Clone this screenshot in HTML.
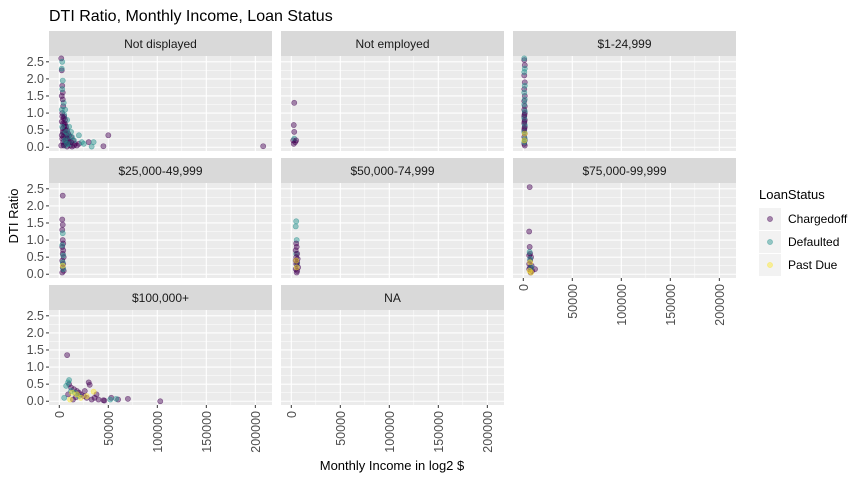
<!DOCTYPE html>
<html><head><meta charset="utf-8">
<style>
body{margin:0;background:#fff;font-family:"Liberation Sans",Arial,sans-serif}
svg text{font-family:"Liberation Sans",Arial,sans-serif}
</style></head><body>
<svg id="chart" width="864" height="480" viewBox="0 0 864 480" xmlns="http://www.w3.org/2000/svg">
<rect width="864" height="480" fill="#fff"/>
<text x="49" y="21" font-size="16" fill="#000">DTI Ratio, Monthly Income, Loan Status</text>
<text x="392" y="470" font-size="13" text-anchor="middle" fill="#000">Monthly Income in log2 $</text>
<text transform="translate(18,216) rotate(-90)" font-size="13" text-anchor="middle" fill="#000">DTI Ratio</text>
<g id="panels"></g>
<g>
<text x="759" y="199" font-size="13" fill="#000">LoanStatus</text>
<rect x="759" y="208" width="22" height="22" fill="#F2F2F2"/>
<rect x="759" y="231" width="22" height="22" fill="#F2F2F2"/>
<rect x="759" y="254" width="22" height="22" fill="#F2F2F2"/>
<circle cx="770" cy="219" r="2.6" fill="#440154" fill-opacity="0.45" stroke="#440154" stroke-opacity="0.5" stroke-width="0.6"/>
<circle cx="770" cy="242" r="2.6" fill="#21908C" fill-opacity="0.45" stroke="#21908C" stroke-opacity="0.5" stroke-width="0.6"/>
<circle cx="770" cy="265" r="2.6" fill="#FDE725" fill-opacity="0.45" stroke="#FDE725" stroke-opacity="0.5" stroke-width="0.6"/>
<text x="788" y="223" font-size="12" fill="#000">Chargedoff</text>
<text x="788" y="246" font-size="12" fill="#000">Defaulted</text>
<text x="788" y="269" font-size="12" fill="#000">Past Due</text>
</g>
</svg>
<script>
const panelNames = ["Not displayed","Not employed","$1-24,999","$25,000-49,999","$50,000-74,999","$75,000-99,999","$100,000+","NA"];
const statusNames = ["Chargedoff","Defaulted","Past Due"];
const statusColors = ["#440154","#21908C","#FDE725"];
const xTicks = [0,50000,100000,150000,200000];
const yTicks = [0,0.5,1,1.5,2,2.5];
const yTickLabels = ["0.0","0.5","1.0","1.5","2.0","2.5"];
const p1 = [[2000,2.6,0],[2500,2.25,0],[3000,1.8,0],[3500,1.6,0],[2500,1.5,0],[4000,1.2,0],[3000,1.0,0],[5000,0.9,0],[6000,0.8,0],[4000,0.7,0],[7000,0.6,0],[8000,0.5,0],[5000,0.45,0],[9000,0.4,0],[10000,0.35,0],[6000,0.3,0],[12000,0.3,0],[3000,0.25,0],[7000,0.2,0],[14000,0.2,0],[4000,0.15,0],[9000,0.12,0],[16000,0.1,0],[5000,0.08,0],[11000,0.05,0],[18000,0.05,0],[2000,0.05,0],[8000,0.02,0],[13000,0.02,0],[20000,0.1,0],[30000,0.15,0],[45000,0.03,0],[50000,0.35,0],[208000,0.03,0],[6000,0.65,0],[3500,0.55,0],[7500,0.35,0],[10000,0.15,0],
[3000,2.5,1],[2500,2.3,1],[3500,1.95,1],[3000,1.7,1],[4500,1.3,1],[6000,1.1,1],[5000,0.95,1],[8000,0.8,1],[10000,0.6,1],[12000,0.45,1],[9000,0.3,1],[15000,0.2,1],[25000,0.1,1],[23000,0.15,1],[35000,0.15,1],[33000,0.02,1],[20000,0.35,1],[4000,0.4,1],[7000,0.25,1],[11000,0.1,1],[6000,0.05,1],[5000,0.6,0],[4000,0.3,0],[6500,0.12,0],
[3000,0.9,0],[4500,0.85,0],[2500,0.75,0],[5500,0.7,0],[3500,0.45,0],[6500,0.5,0],[8500,0.25,0],[2500,0.35,0],[4500,0.05,0],[12000,0.15,0],[15000,0.05,0],[7000,0.45,1],[5500,0.2,1],[3000,0.6,1],[8000,0.1,1],[13000,0.3,1],[3500,1.4,0],[2500,1.1,1]];
const p2 = [[3000,1.3,0],[2500,0.65,0],[3000,0.45,0],[2000,0.2,0],[4000,0.15,0],[3000,0.25,1],[5000,0.2,0],[2500,0.1,0]];
const p3 = [[1000,2.55,0],[1500,2.4,0],[1000,2.1,0],[1500,1.9,0],[1000,1.7,0],[1500,1.5,0],[1000,1.35,0],[1500,1.2,0],[1000,1.1,0],[1500,1.0,0],[1000,0.9,0],[1500,0.8,0],[1000,0.7,0],[1500,0.6,0],[1000,0.5,0],[1500,0.4,0],[1000,0.3,0],[1500,0.2,0],[1000,0.1,0],[1500,0.05,0],
[1000,2.6,1],[1500,2.3,1],[1000,2.2,1],[1500,1.8,1],[1000,1.6,1],[1500,1.4,1],[1000,1.25,1],[1500,1.05,1],[1000,0.85,1],[1500,0.65,1],[1000,0.45,1],[1500,0.25,1],[1000,0.15,1],[1500,0.4,2],[1000,0.2,2],[1200,0.55,0],[1200,0.75,0],[1200,0.95,0]];
const p4 = [[3500,2.3,0],[3000,1.6,0],[3500,1.45,0],[3000,1.3,0],[3500,1.0,0],[4000,0.9,0],[3000,0.8,0],[4000,0.7,0],[3500,0.6,0],[4500,0.5,0],[3000,0.4,0],[4000,0.3,0],[3500,0.2,0],[4500,0.1,0],[3000,0.05,0],[3500,1.2,1],[3000,0.85,1],[4000,0.55,1],[3500,0.35,1],[4000,0.15,1],[3500,0.25,2]];
const p5 = [[5000,1.55,1],[4500,1.4,1],[5500,1.0,1],[5000,0.6,1],[6000,0.3,1],[5000,0.9,0],[5500,0.8,0],[4500,0.7,0],[6000,0.6,0],[5000,0.5,0],[6500,0.45,0],[4500,0.4,0],[6000,0.35,0],[5000,0.3,0],[7000,0.2,0],[4500,0.15,0],[6000,0.1,0],[5500,0.05,0],[5500,0.2,2],[5000,0.4,2]];
const p6 = [[6500,2.55,0],[6000,1.25,0],[6500,0.8,0],[7000,0.6,0],[6000,0.55,0],[8000,0.5,0],[7000,0.4,0],[6000,0.3,0],[8500,0.25,0],[7000,0.2,0],[6000,0.15,0],[9000,0.1,0],[7500,0.05,0],[12000,0.15,0],[6500,0.65,1],[7000,0.45,1],[8000,0.2,1],[7000,0.35,2],[6500,0.1,2],[8000,0.05,2]];
const p7 = [[8000,1.35,0],[30000,0.55,0],[31000,0.48,0],[10000,0.5,0],[12000,0.4,0],[15000,0.35,0],[18000,0.3,0],[20000,0.25,0],[22000,0.2,0],[25000,0.15,0],[28000,0.1,0],[33000,0.05,0],[38000,0.2,0],[40000,0.05,0],[45000,0.03,0],[46000,0.02,0],[53000,0.1,0],[60000,0.05,0],[70000,0.07,0],[103000,0,0],[14000,0.05,0],[17000,0.12,0],[9000,0.2,0],[26000,0.3,0],[36000,0.1,0],
[10000,0.62,1],[9000,0.55,1],[7000,0.45,1],[5000,0.1,1],[12000,0.3,1],[20000,0.15,1],[52000,0.05,1],[58000,0.07,1],[16000,0.25,1],[13000,0.25,2],[18000,0.2,2],[35000,0.28,2],[22000,0.1,2],[11000,0.05,2],[28000,0.15,2]];
const p8 = [];
const panelData = [p1,p2,p3,p4,p5,p6,p7,p8];

const NS = "http://www.w3.org/2000/svg";
const g = document.getElementById("panels");
const colX = [49,281,513], rowY = [31,158,285], PW = 223, SH = 25, PH = 95;
const xMin = -10500, xMax = 217000, yMin = -0.11, yMax = 2.67;
function mk(tag, attrs){const e=document.createElementNS(NS,tag);for(const k in attrs)e.setAttribute(k,attrs[k]);return e;}
const bottomRow = [2,2,1];
panelNames.forEach((name,i)=>{
  const c=i%3, r=Math.floor(i/3);
  const px=colX[c], sy=rowY[r], py=sy+SH;
  const sx=v=>px+(v-xMin)/(xMax-xMin)*PW;
  const syf=v=>py+PH-(v-yMin)/(yMax-yMin)*PH;
  const pg=mk("g",{});
  
  
  const strip=mk("rect",{x:px,y:sy,width:PW,height:SH,fill:"#D9D9D9"});
  
  
  pg.appendChild(strip);
  const st=mk("text",{x:px+PW/2,y:sy+17,"font-size":12,"text-anchor":"middle",fill:"#1A1A1A"});
  st.textContent=name;
  
  
  pg.appendChild(st);
  const bg=mk("rect",{x:px,y:py,width:PW,height:PH,fill:"#EBEBEB"});
  
  
  pg.appendChild(bg);
  for(let k=0;k<yTicks.length-1;k++){const v=(yTicks[k]+yTicks[k+1])/2;pg.appendChild(mk("line",{x1:px,x2:px+PW,y1:syf(v),y2:syf(v),stroke:"#fff","stroke-width":0.5}));}
  for(let k=0;k<xTicks.length-1;k++){const v=(xTicks[k]+xTicks[k+1])/2;pg.appendChild(mk("line",{x1:sx(v),x2:sx(v),y1:py,y2:py+PH,stroke:"#fff","stroke-width":0.5}));}
  yTicks.forEach(v=>pg.appendChild(mk("line",{x1:px,x2:px+PW,y1:syf(v),y2:syf(v),stroke:"#fff","stroke-width":1.1})));
  xTicks.forEach(v=>pg.appendChild(mk("line",{x1:sx(v),x2:sx(v),y1:py,y2:py+PH,stroke:"#fff","stroke-width":1.1})));
  if(c===0){
    yTicks.forEach((v,k)=>{
      pg.appendChild(mk("line",{x1:px-3,x2:px,y1:syf(v),y2:syf(v),stroke:"#333","stroke-width":1}));
      const t=mk("text",{x:px-5,y:syf(v)+4,"font-size":12.5,"text-anchor":"end",fill:"#4D4D4D"});
      t.textContent=yTickLabels[k];
      
      
      pg.appendChild(t);
    });
  }
  if(r===bottomRow[c]){
    xTicks.forEach(v=>{
      pg.appendChild(mk("line",{x1:sx(v),x2:sx(v),y1:py+PH,y2:py+PH+3,stroke:"#333","stroke-width":1}));
      const t=mk("text",{"font-size":12.5,"text-anchor":"end",fill:"#4D4D4D",transform:"translate("+(sx(v)+4.5)+","+(py+PH+6)+") rotate(-90)"});
      t.textContent=String(v);
      
      
      pg.appendChild(t);
    });
  }
  panelData[i].forEach(d=>{
    const col=statusColors[d[2]];
    const pt=mk("circle",{cx:sx(d[0]),cy:syf(d[1]),r:2.6,fill:col,"fill-opacity":0.45,stroke:col,"stroke-opacity":0.55,"stroke-width":0.6});
    
    
    pg.appendChild(pt);
  });
  g.appendChild(pg);
});
</script>
</body></html>
